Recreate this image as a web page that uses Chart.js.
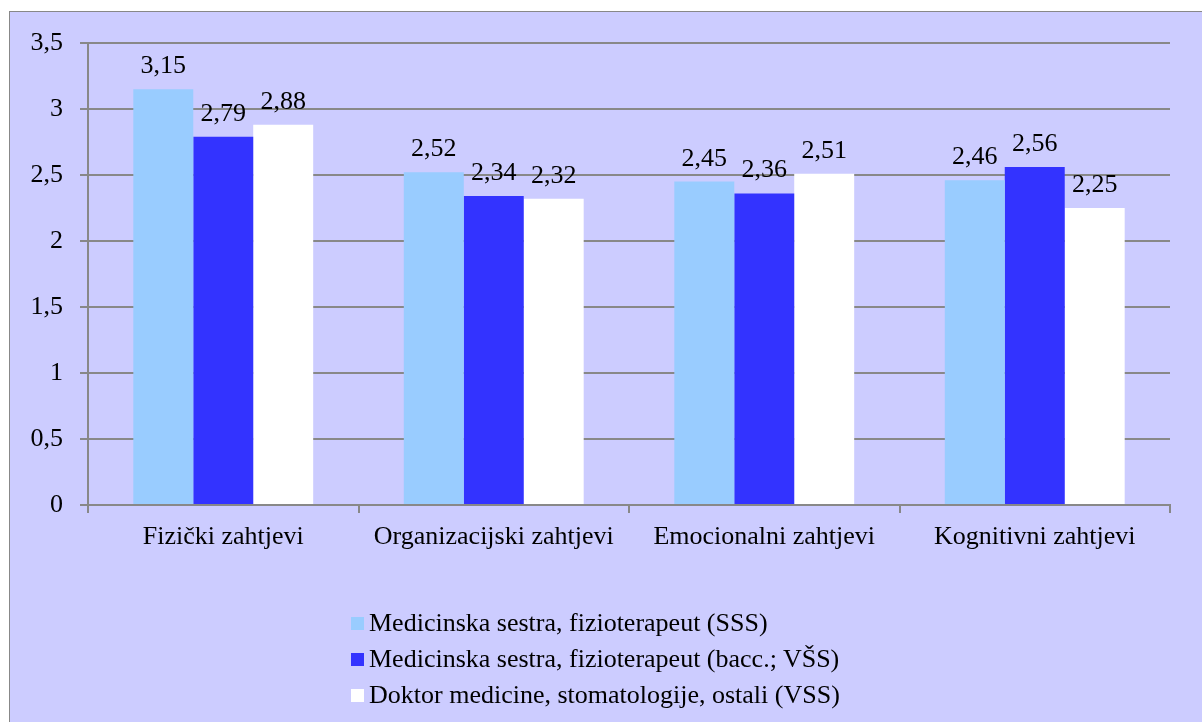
<!DOCTYPE html>
<html><head><meta charset="utf-8">
<script src="https://cdn.jsdelivr.net/npm/chart.js@4"></script>
<style>
body{margin:0;background:#fff;width:1202px;height:722px;overflow:hidden;position:relative;font-family:"Liberation Serif","Times New Roman",serif;}
#frame{position:absolute;left:9px;top:11px;width:1300px;height:800px;background:#CCCCFF;border-left:1px solid #888;border-top:1px solid #888;}
#c{position:absolute;left:0;top:0;}
#legend{position:absolute;left:351px;top:605px;font-size:26px;color:#000;}
.item{height:36px;white-space:nowrap;display:flex;align-items:center}
.sw{width:13px;height:13px;margin-right:5px;flex:none}
</style>
</head><body>
<div id="frame"></div>
<canvas id="c" width="1202" height="722"></canvas>
<div id="legend"></div>
<script>
const categories = ['Fizički zahtjevi', 'Organizacijski zahtjevi', 'Emocionalni zahtjevi', 'Kognitivni zahtjevi'];
const seriesNames = [
  'Medicinska sestra, fizioterapeut (SSS)',
  'Medicinska sestra, fizioterapeut (bacc.; VŠS)',
  'Doktor medicine, stomatologije, ostali (VSS)'
];
const seriesSSS = [3.15, 2.52, 2.45, 2.46];
const seriesBacc = [2.79, 2.34, 2.36, 2.56];
const seriesVSS = [2.88, 2.32, 2.51, 2.25];
const seriesColors = ['#99CCFF', '#3333FF', '#FFFFFF'];
const yMin = 0, yMax = 3.5, yStep = 0.5;

const FONT = '"Liberation Serif", "Times New Roman", serif';
const fmt = v => String(v).replace('.', ',');
const fmt2 = v => v.toFixed(2).replace('.', ',');

const dataLabels = {
  id: 'dataLabels',
  afterDatasetsDraw(chart) {
    const ctx = chart.ctx;
    ctx.save();
    ctx.font = '26px ' + FONT;
    ctx.fillStyle = '#000';
    ctx.textAlign = 'center';
    ctx.textBaseline = 'alphabetic';
    chart.data.datasets.forEach((ds, i) => {
      chart.getDatasetMeta(i).data.forEach((el, j) => {
        ctx.fillText(fmt2(ds.data[j]), el.x, el.y - 16);
      });
    });
    ctx.restore();
  }
};

const allSeries = [seriesSSS, seriesBacc, seriesVSS];
new Chart(document.getElementById('c'), {
  type: 'bar',
  data: {
    labels: categories,
    datasets: allSeries.map((d, i) => ({
      label: seriesNames[i],
      data: d,
      backgroundColor: seriesColors[i],
      borderWidth: 0,
      categoryPercentage: 0.665,
      barPercentage: 1.0
    }))
  },
  options: {
    responsive: false,
    animation: false,
    devicePixelRatio: 1,
    layout: { padding: { left: 0, right: 32, top: 43, bottom: 167 } },
    plugins: { legend: { display: false }, tooltip: { enabled: false } },
    scales: {
      x: {
        grid: { offset: true, drawOnChartArea: false, drawTicks: true, tickLength: 8, color: '#888', lineWidth: 2 },
        border: { color: '#888', width: 2 },
        ticks: { font: { family: FONT, size: 26 }, color: '#000', padding: 9 },
        afterFit: s => { s.height = 50; }
      },
      y: {
        min: yMin, max: yMax,
        ticks: { stepSize: yStep, font: { family: FONT, size: 26 }, color: '#000', padding: 17, callback: v => fmt(v) },
        grid: { color: '#888', lineWidth: 2, tickLength: 8 },
        border: { color: '#888', width: 2 },
        afterFit: s => { s.width = 88; }
      }
    }
  },
  plugins: [dataLabels]
});

const lg = document.getElementById('legend');
seriesNames.forEach((n, i) => {
  const it = document.createElement('div');
  it.className = 'item';
  const sw = document.createElement('span');
  sw.className = 'sw';
  sw.style.background = seriesColors[i];
  const t = document.createElement('span');
  t.textContent = n;
  it.appendChild(sw); it.appendChild(t);
  lg.appendChild(it);
});
</script>
</body></html>
